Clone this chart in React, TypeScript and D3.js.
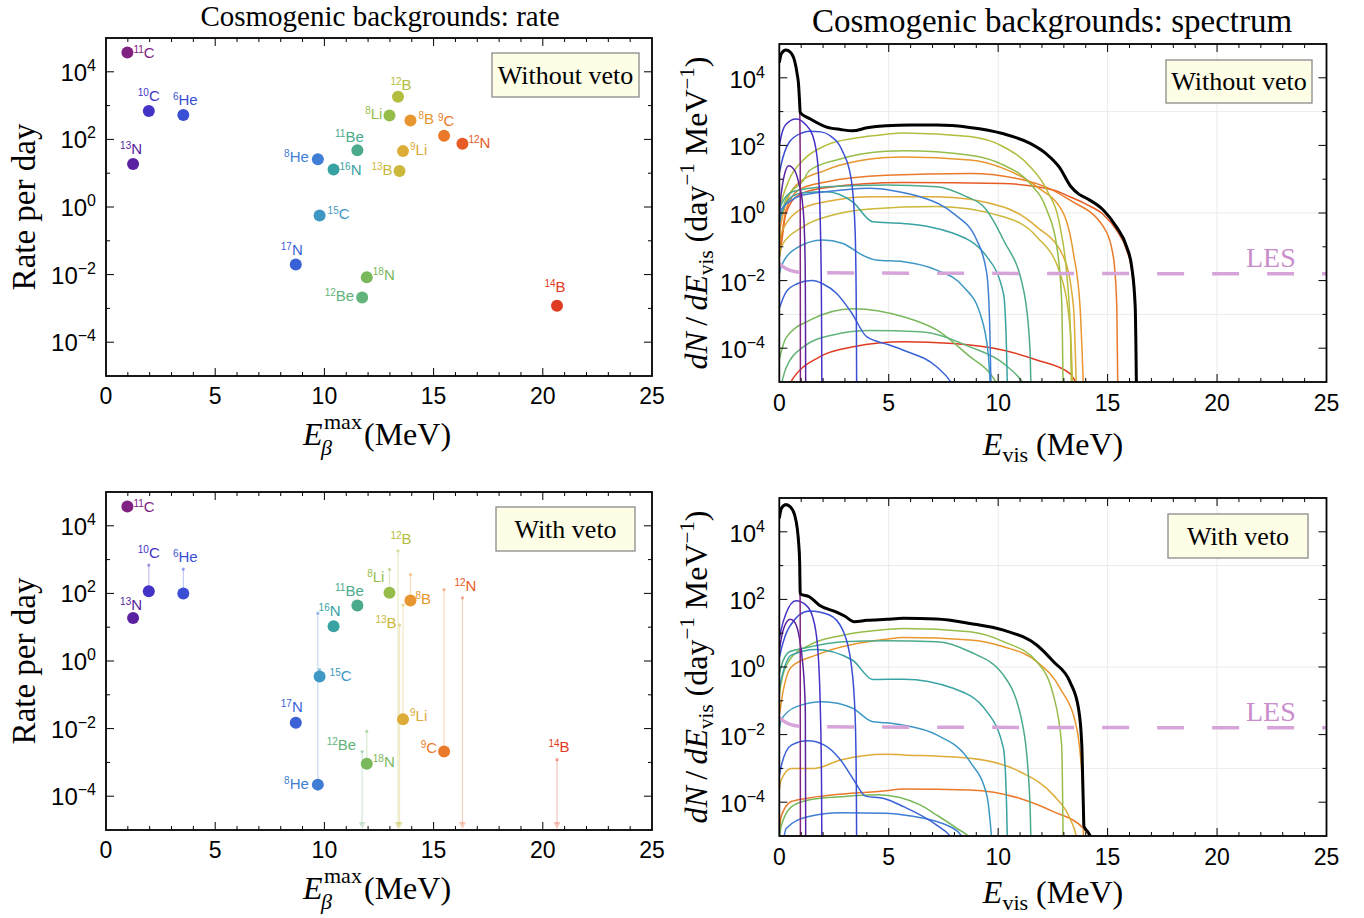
import React from "react";
import * as d3 from "d3";

// ---------------- DATA ----------------
const masses = [11, 13, 10, 6, 17, 8, 15, 16, 11, 12, 18, 8, 12, 13, 9, 8, 9, 12, 14];
const symbols = ["C", "N", "C", "He", "N", "He", "C", "N", "Be", "Be", "N", "Li", "B", "B", "Li", "B", "C", "N", "B"];
const eMax = [0.98, 1.24, 1.96, 3.54, 8.69, 9.7, 9.78, 10.42, 11.51, 11.73, 11.94, 12.98, 13.37, 13.44, 13.6, 13.94, 15.48, 16.32, 20.65];
const rateWithoutVeto = [3.7e4, 18.6, 690, 525, 0.02, 26, 0.56, 12.9, 48, 0.0021, 0.0083, 513, 1820, 11.7, 45, 363, 129, 74, 0.0012];
const rateWithVeto: (number | null)[] = [3.7e4, 18.6, 115, 100, 0.015, 2.2e-4, 0.35, 10.7, 44, null, 9.1e-4, 105, null, null, 0.019, 62, 0.0021, null, null];
const isotopeColors = [
  "#7f2282", "#5a22a0", "#4333c6", "#3a4fd4", "#3a62d6", "#3f7ed4", "#3f98c4", "#39a2a2", "#4caa8c", "#63b47a",
  "#7ab85c", "#96bd4a", "#b3bd3e", "#ccb83a", "#ddab37", "#e8962f", "#ea7a2a", "#e65b26", "#df3a22",
];
const xTickValues = [0, 5, 10, 15, 20, 25];
const yTickExponents = [-4, -2, 0, 2, 4];

// spectra: [E_vis (MeV), log10(dN/dE)]
const s11C: [number, number][] = [[0, 4.45], [0.1, 4.72], [0.3, 4.82], [0.5, 4.76], [0.7, 4.5], [0.82, 4.1], [0.88, 3.8], [0.93, 3.2], [0.955, 1.5], [0.965, -6]];
const s13N: [number, number][] = [[0.01, 0.1], [0.08, 0.53], [0.23, 1.12], [0.43, 1.4], [0.69, 1.27], [0.91, 0.83], [1.07, 0.23], [1.15, -0.6], [1.19, -2], [1.21, -6]];
const s10C: [number, number][] = [[0.01, 2.0], [0.08, 2.25], [0.3, 2.62], [0.76, 2.78], [1.2, 2.62], [1.52, 2.3], [1.75, 1.51], [1.88, -0.46], [1.93, -3], [1.95, -6]];
const s6He: [number, number][] = [[0.01, 1.2], [0.08, 1.42], [0.46, 2.1], [1.0, 2.36], [1.37, 2.42], [1.9, 2.4], [2.29, 2.3], [2.9, 1.81], [3.28, 1.02], [3.46, -0.45], [3.52, -3], [3.54, -6]];
const s17N: [number, number][] = [[0.01, -2.8], [0.3, -2.35], [0.79, -2.1], [1.48, -2.0], [2.0, -2.1], [2.62, -2.38], [3.3, -2.95], [3.99, -3.66], [5.0, -3.9], [5.67, -4.06], [7.19, -4.55], [7.88, -5.04], [8.3, -5.6]];
const s8He: [number, number][] = [[0.01, -0.3], [0.08, 0.09], [0.5, 0.35], [1.07, 0.53], [2.9, 0.68], [4.14, 0.73], [5.2, 0.66], [6.43, 0.48], [7.95, -0.01], [9.02, -0.8], [9.48, -1.79], [9.62, -3.5], [9.7, -6]];
const s15C: [number, number][] = [[0.01, -1.8], [0.08, -1.59], [0.76, -1.05], [1.98, -0.8], [2.9, -0.9], [3.81, -1.25], [4.42, -1.39], [5.67, -1.44], [7.19, -1.69], [8.41, -2.18], [9.17, -2.97], [9.55, -4.2], [9.7, -6]];
const s16N: [number, number][] = [[0.01, -0.3], [0.08, -0.07], [0.6, 0.5], [1.1, 0.6], [2.13, 0.63], [3.35, 0.33], [4.27, -0.26], [5.67, -0.31], [7.95, -0.6], [9.48, -1.29], [10.24, -2.38], [10.38, -4], [10.45, -6]];
const s11Be: [number, number][] = [[0.01, 0.0], [0.08, 0.23], [0.6, 0.63], [2.13, 0.78], [4.88, 0.83], [7.19, 0.78], [8.5, 0.5], [9.33, 0.19], [10.24, -0.8], [11.16, -2.28], [11.45, -4], [11.52, -6]];
const s12Be: [number, number][] = [[0.01, -5.3], [0.3, -4.6], [1.1, -3.96], [2.5, -3.6], [4.14, -3.48], [6.43, -3.51], [8.71, -3.96], [10.24, -4.45], [11.16, -5.04], [11.5, -5.4]];
const s18N: [number, number][] = [[0.01, -4.3], [0.3, -3.7], [1.4, -3.17], [3.38, -2.83], [5.67, -3.07], [7.19, -3.46], [8.71, -4.25], [9.63, -4.75], [9.93, -5.04], [10.2, -5.4]];
const s8Li: [number, number][] = [[0.01, -0.2], [0.3, 0.4], [1.1, 0.97], [1.37, 1.25], [2.62, 1.57], [4.88, 1.83], [5.67, 1.84], [8.71, 1.71], [10.24, 1.42], [11.46, 0.87], [12.22, 0.09], [12.68, -1.0], [12.9, -2.58], [12.98, -6]];
const s12B: [number, number][] = [[0.01, 0.1], [0.08, 0.3], [0.46, 1.0], [1.07, 1.55], [2.13, 2.0], [3.5, 2.22], [4.88, 2.33], [5.67, 2.37], [8.71, 2.26], [10.24, 1.96], [11.46, 1.37], [12.22, 0.68], [12.83, -0.41], [13.13, -1.79], [13.3, -3.5], [13.37, -6]];
const s13B: [number, number][] = [[0.01, -1.3], [0.08, -1.0], [1.1, -0.4], [2.5, -0.05], [4.14, 0.12], [7.19, 0.19], [10.24, -0.11], [11.76, -0.7], [12.83, -1.79], [13.3, -3.5], [13.44, -6]];
const s9Li: [number, number][] = [[0.01, -0.9], [0.08, -0.6], [1.1, 0.15], [2.5, 0.38], [4.14, 0.48], [7.19, 0.48], [10.24, 0.18], [11.76, -0.41], [12.98, -1.29], [13.44, -2.77], [13.6, -6]];
const s8B: [number, number][] = [[0.01, -0.6], [0.08, -0.3], [0.76, 0.82], [2.13, 1.27], [4.88, 1.64], [5.67, 1.66], [8.71, 1.57], [10.24, 1.32], [11.76, 0.78], [12.98, -0.01], [13.44, -1.2], [13.74, -2.77], [13.94, -6]];
const s9C: [number, number][] = [[0.01, -1.1], [0.08, -0.8], [0.31, 0.1], [0.92, 0.7], [2.13, 0.92], [4.88, 1.12], [8.71, 1.17], [11.76, 0.87], [13.28, 0.38], [14.81, -0.41], [15.26, -1.29], [15.42, -2.77], [15.48, -6]];
const s12N: [number, number][] = [[0.01, -1.3], [0.08, -1.0], [0.31, 0.0], [0.92, 0.55], [2.13, 0.75], [5.67, 0.9], [10.24, 0.87], [12.52, 0.68], [13.28, 0.48], [14.05, 0.25], [14.81, -0.05], [15.4, -0.5], [15.87, -1.1], [16.1, -1.7], [16.26, -2.9], [16.33, -6]];
const s14B: [number, number][] = [[0.3, -5.3], [0.49, -5.04], [1.86, -4.25], [3.38, -3.96], [5.67, -3.81], [7.95, -3.86], [10.24, -4.06], [11.76, -4.35], [13.28, -4.75], [13.59, -5.04], [14, -5.4]];
const totalWithoutVeto: [number, number][] = [[0, 4.45], [0.1, 4.72], [0.3, 4.82], [0.5, 4.76], [0.7, 4.5], [0.82, 4.1], [0.88, 3.8], [0.93, 3.25], [0.955, 2.97], [1.37, 2.8], [2.13, 2.55], [2.8, 2.47], [3.35, 2.43], [4.0, 2.52], [4.88, 2.58], [6.0, 2.6], [7.2, 2.6], [8.7, 2.53], [10.2, 2.35], [11.46, 2.06], [12.2, 1.75], [12.8, 1.35], [13.3, 0.8], [13.7, 0.55], [14.05, 0.43], [14.8, 0.09], [15.4, -0.41], [15.87, -1.0], [16.1, -1.59], [16.26, -2.77], [16.33, -6]];

const v13N: [number, number][] = [[0.01, 0.5], [0.08, 0.8], [0.23, 1.19], [0.5, 1.41], [0.69, 1.34], [0.91, 0.89], [1.07, 0.11], [1.15, -0.6], [1.19, -1.37], [1.21, -6]];
const v10C: [number, number][] = [[0.01, 0.85], [0.08, 1.09], [0.31, 1.59], [0.76, 1.96], [1.22, 1.83], [1.52, 1.49], [1.75, 0.6], [1.88, -1.37], [1.93, -3.5], [1.95, -6]];
const v6He: [number, number][] = [[0.01, 0.3], [0.08, 0.5], [0.46, 1.19], [1.37, 1.66], [2.29, 1.54], [2.9, 1.09], [3.28, 0.11], [3.46, -1.37], [3.52, -3.5], [3.54, -6]];
const v17N: [number, number][] = [[0.01, -3.2], [0.08, -2.95], [0.55, -2.31], [1.3, -2.18], [2.06, -2.31], [2.8, -2.75], [3.41, -3.35], [3.94, -3.82], [4.78, -3.89], [5.67, -4.13], [7.19, -4.68], [7.88, -5.07], [8.2, -5.5]];
const v8He: [number, number][] = [[0.2, -5.1], [0.31, -4.78], [1.3, -4.43], [2.8, -4.31], [4.88, -4.33], [5.67, -4.38], [7.95, -4.77], [8.41, -5.07], [8.7, -5.4]];
const v15C: [number, number][] = [[0.01, -1.8], [0.08, -1.57], [0.76, -1.18], [1.98, -1.03], [3.35, -1.22], [4.27, -1.62], [4.88, -1.65], [5.67, -1.72], [7.19, -2.01], [8.71, -2.8], [9.48, -3.79], [9.7, -5.07], [9.8, -6]];
const v16N: [number, number][] = [[0.01, -0.6], [0.08, -0.39], [0.55, 0.35], [1.68, 0.52], [3.35, 0.2], [4.27, -0.37], [5.67, -0.36], [7.95, -0.63], [9.48, -1.32], [10.24, -2.41], [10.38, -4], [10.45, -6]];
const v11Be: [number, number][] = [[0.01, -0.2], [0.08, 0.0], [0.46, 0.45], [1.07, 0.55], [2.9, 0.75], [4.88, 0.78], [7.19, 0.75], [8.71, 0.45], [10.24, -0.24], [11.15, -1.82], [11.45, -4], [11.52, -6]];
const v18N: [number, number][] = [[0.01, -5.0], [0.08, -4.73], [0.55, -4.14], [1.3, -3.94], [2.8, -3.84], [4.5, -3.78], [6.43, -4.08], [7.19, -4.38], [8.1, -4.77], [8.71, -5.07], [9.0, -5.4]];
const v8Li: [number, number][] = [[0.01, -0.8], [0.08, -0.49], [0.46, 0.2], [1.37, 0.65], [2.9, 0.94], [4.88, 1.11], [5.67, 1.14], [8.71, 1.04], [10.24, 0.75], [11.76, 0.16], [12.52, -0.83], [12.9, -2.31], [12.98, -6]];
const v9Li: [number, number][] = [[0.01, -3.6], [0.08, -3.35], [0.55, -3.0], [1.6, -3.0], [2.8, -2.75], [4.88, -2.58], [5.67, -2.6], [8.71, -2.7], [11.0, -3.1], [12.52, -3.79], [13.28, -4.48], [13.59, -5.07], [13.7, -5.5]];
const v8B: [number, number][] = [[0.01, -1.4], [0.08, -1.08], [0.55, 0.0], [1.68, 0.35], [4.88, 0.82], [5.67, 0.87], [8.71, 0.8], [10.24, 0.6], [11.76, 0.16], [12.83, -0.63], [13.59, -1.82], [13.85, -3.5], [13.92, -6]];
const v9C: [number, number][] = [[0.01, -4.8], [0.08, -4.43], [0.55, -3.98], [1.3, -3.88], [4.88, -3.66], [5.67, -3.61], [8.71, -3.64], [11.0, -3.89], [12.52, -4.28], [13.89, -4.77], [14.27, -5.07], [14.6, -5.4]];
const totalWithVeto: [number, number][] = [[0, 4.4], [0.1, 4.7], [0.3, 4.8], [0.5, 4.74], [0.7, 4.5], [0.82, 4.1], [0.88, 3.7], [0.93, 3.1], [0.955, 2.2], [0.97, 2.16], [1.37, 2.08], [1.83, 1.83], [2.59, 1.63], [3.0, 1.5], [3.42, 1.34], [4.0, 1.38], [4.88, 1.41], [5.67, 1.44], [7.19, 1.42], [8.71, 1.29], [10.24, 1.09], [11.76, 0.65], [12.52, 0.16], [13.28, -0.44], [13.67, -1.23], [13.82, -2.31], [13.88, -3.8], [13.92, -4.72], [14.1, -4.88], [14.27, -5.07], [14.5, -5.3]];

const spectraWithoutVeto: ([number, number][] | null)[] = [s11C, s13N, s10C, s6He, s17N, s8He, s15C, s16N, s11Be, s12Be, s18N, s8Li, s12B, s13B, s9Li, s8B, s9C, s12N, s14B];
const spectraWithVeto: ([number, number][] | null)[] = [s11C, v13N, v10C, v6He, v17N, v8He, v15C, v16N, v11Be, null, v18N, v8Li, null, null, v9Li, v8B, v9C, null, null];
const lesCurve: [number, number][] = [[0, -1.5], [0.2, -1.6], [0.5, -1.7], [0.9, -1.75], [2, -1.77], [25, -1.8]];

// label placements (layout)
type Anchor = "start" | "middle" | "end";
const labelsNoVeto: [number, number, Anchor][] = [
  [6, 5, "start"], [-2, -10, "middle"], [0, -10, "middle"], [2, -10, "middle"], [-4, -9, "middle"], [-9, 3, "end"],
  [8, 3, "start"], [6, 6, "start"], [-8, -8, "middle"], [-8, 3, "end"], [6, 3, "start"], [-7, 4, "end"],
  [3, -7, "middle"], [-7, 4, "end"], [7, 4, "start"], [8, 4, "start"], [2, -10, "middle"], [6, 4, "start"], [-2, -14, "middle"],
];
const labelsVeto: ["dot" | "orig", number, number, Anchor][] = [
  ["dot", 6, 5, "start"], ["dot", -2, -8, "middle"], ["orig", 0, -7, "middle"], ["orig", 2, -7, "middle"], ["dot", -4, -11, "middle"],
  ["dot", -9, 4, "end"], ["dot", 10, 5, "start"], ["dot", -4, -10, "middle"], ["dot", -8, -9, "middle"], ["orig", -6, -2, "end"],
  ["dot", 6, 3, "start"], ["dot", -5, -11, "end"], ["orig", 3, -7, "middle"], ["orig", -3, 3, "end"], ["dot", 7, 2, "start"],
  ["dot", 5, 4, "start"], ["dot", -7, 1, "end"], ["orig", 3, -7, "middle"], ["orig", 2, -8, "middle"],
];

// ---------------- STYLE ----------------
const SANS = "'Liberation Sans', Arial, Helvetica, sans-serif";
const SERIF = "'Liberation Serif', 'Times New Roman', serif";
const OFF = 454;

function sup(e: number) {
  return e < 0 ? "\u2212" + Math.abs(e) : String(e);
}

function Ticks({ xs, ys, x0, x1, y0, y1 }: any) {
  const els: any[] = [];
  for (let i = 1; i < 25; i++) {
    const x = xs(i);
    const len = i % 5 === 0 ? 8 : 4;
    els.push(<line key={"xb" + i} x1={x} x2={x} y1={y1} y2={y1 - len} stroke="#000" strokeWidth={1} />);
    els.push(<line key={"xt" + i} x1={x} x2={x} y1={y0} y2={y0 + len} stroke="#000" strokeWidth={1} />);
  }
  for (let e = -4; e <= 4; e++) {
    const y = ys(Math.pow(10, e));
    const len = e % 2 === 0 ? 8 : 4;
    els.push(<line key={"yl" + e} x1={x0} x2={x0 + len} y1={y} y2={y} stroke="#000" strokeWidth={1} />);
    els.push(<line key={"yr" + e} x1={x1} x2={x1 - len} y1={y} y2={y} stroke="#000" strokeWidth={1} />);
  }
  return <g>{els}</g>;
}

function IsoLabel({ x, y, anchor, i }: any) {
  return (
    <text x={x} y={y} textAnchor={anchor} fill={isotopeColors[i]} fontFamily={SANS} fontSize={15}>
      <tspan fontSize={10} dy={-5}>{masses[i]}</tspan>
      <tspan dy={5}>{symbols[i]}</tspan>
    </text>
  );
}

function Legend({ x, y, w, h, text, size }: any) {
  return (
    <g>
      <rect x={x} y={y} width={w} height={h} fill="#fefee6" stroke="#8a8a8a" strokeWidth={1.3} />
      <text x={x + w / 2} y={y + h / 2 + size * 0.33} textAnchor="middle" fontFamily={SERIF} fontSize={size} fill="#000">{text}</text>
    </g>
  );
}

function RatePanel({ isTop }: { isTop: boolean }) {
  const off = isTop ? 0 : OFF;
  const x0 = 106, x1 = 652, y0 = 38 + off, y1 = 376 + off;
  const xs = d3.scaleLinear().domain([0, 25]).range([x0, x1]);
  const ys = d3.scaleLog().domain([1e-5, 1e5]).range([y1, y0]);
  const rates = isTop ? rateWithoutVeto : rateWithVeto;

  return (
    <g>
      {!isTop && eMax.map((e, i) => {
        const xo = xs(e);
        const yo = ys(rateWithoutVeto[i]);
        const rv = rateWithVeto[i];
        const c = isotopeColors[i];
        if (rv === null) {
          return (
            <g key={"v" + i}>
              <line x1={xo} x2={xo} y1={yo} y2={y1 - 6} stroke={c} strokeOpacity={0.3} strokeWidth={1.2} />
              <path d={`M${xo - 3.5},${y1 - 8} L${xo + 3.5},${y1 - 8} L${xo},${y1 - 1} Z`} fill={c} fillOpacity={0.3} />
              <circle cx={xo} cy={yo} r={1.6} fill={c} fillOpacity={0.5} />
            </g>
          );
        }
        return (
          <g key={"v" + i}>
            <line x1={xo} x2={xo} y1={yo} y2={ys(rv)} stroke={c} strokeOpacity={0.3} strokeWidth={1.2} />
            <circle cx={xo} cy={yo} r={1.6} fill={c} fillOpacity={0.5} />
          </g>
        );
      })}
      {eMax.map((e, i) => {
        const r = rates[i];
        if (r === null) return null;
        return <circle key={"p" + i} cx={xs(e)} cy={ys(r)} r={6} fill={isotopeColors[i]} />;
      })}
      {eMax.map((e, i) => {
        if (isTop) {
          const [dx, dy, a] = labelsNoVeto[i];
          return <IsoLabel key={"l" + i} i={i} x={xs(e) + dx} y={ys(rateWithoutVeto[i]) + dy} anchor={a} />;
        }
        const [ref, dx, dy, a] = labelsVeto[i];
        const rv = rateWithVeto[i];
        const base = ref === "orig" || rv === null ? rateWithoutVeto[i] : rv;
        return <IsoLabel key={"l" + i} i={i} x={xs(e) + dx} y={ys(base) + dy} anchor={a} />;
      })}
      <rect x={x0} y={y0} width={x1 - x0} height={y1 - y0} fill="none" stroke="#000" strokeWidth={1.8} />
      <Ticks xs={xs} ys={ys} x0={x0} x1={x1} y0={y0} y1={y1} />
      {xTickValues.map((t) => (
        <text key={"xt" + t} x={xs(t)} y={y1 + 28} textAnchor="middle" fontFamily={SANS} fontSize={23}>{t}</text>
      ))}
      {yTickExponents.map((e) => (
        <text key={"yt" + e} x={96} y={ys(Math.pow(10, e)) + 9} textAnchor="end" fontFamily={SANS} fontSize={24}>
          10<tspan fontSize={16} dy={-10}>{sup(e)}</tspan>
        </text>
      ))}
      <text transform={`translate(35,${207 + off}) rotate(-90)`} textAnchor="middle" fontFamily={SERIF} fontSize={33}>Rate per day</text>
      <text x={303} y={445 + off} fontFamily={SERIF} fontSize={32} fontStyle="italic">E</text>
      <text x={324} y={429 + off} fontFamily={SERIF} fontSize={22}>max</text>
      <text x={321} y={455 + off} fontFamily={SERIF} fontSize={22} fontStyle="italic">β</text>
      <text x={364} y={445 + off} fontFamily={SERIF} fontSize={32}>(MeV)</text>
      {isTop ? (
        <Legend x={492} y={53} w={147} h={44} text="Without veto" size={26} />
      ) : (
        <Legend x={496} y={507} w={139} h={44} text="With veto" size={26} />
      )}
    </g>
  );
}

function SpectrumPanel({ isTop }: { isTop: boolean }) {
  const off = isTop ? 0 : OFF;
  const x0 = 779.3, x1 = 1326.5, y0 = 44 + off, y1 = 382 + off;
  const xs = d3.scaleLinear().domain([0, 25]).range([x0, x1]);
  const ys = d3.scaleLog().domain([1e-5, 1e5]).range([y1, y0]);
  const line = d3
    .line<[number, number]>()
    .x((d) => xs(d[0]))
    .y((d) => ys(Math.pow(10, d[1])))
    .curve(d3.curveMonotoneX);
  const spectra = isTop ? spectraWithoutVeto : spectraWithVeto;
  const total = isTop ? totalWithoutVeto : totalWithVeto;
  const clipId = isTop ? "clipSpecTop" : "clipSpecBottom";
  const order = d3.range(spectra.length).reverse();
  const labelY = isTop ? 455 : 903;

  return (
    <g>
      <defs>
        <clipPath id={clipId}>
          <rect x={x0} y={y0} width={x1 - x0} height={y1 - y0} />
        </clipPath>
      </defs>
      {[5, 10, 15, 20].map((t) => (
        <line key={"gx" + t} x1={xs(t)} x2={xs(t)} y1={y0} y2={y1} stroke="#ebebeb" strokeWidth={1} />
      ))}
      {[1e3, 1, 1e-3].map((t) => (
        <line key={"gy" + t} x1={x0} x2={x1} y1={ys(t)} y2={ys(t)} stroke="#ebebeb" strokeWidth={1} />
      ))}
      <g clipPath={`url(#${clipId})`}>
        {order.map((i) => {
          const d = spectra[i];
          if (!d) return null;
          return <path key={"s" + i} d={line(d) || ""} fill="none" stroke={isotopeColors[i]} strokeWidth={1.5} />;
        })}
        <path d={line(lesCurve) || ""} fill="none" stroke="#d6a4d9" strokeWidth={3.5} strokeDasharray="27 28" strokeDashoffset={5} />
        <path d={line(total) || ""} fill="none" stroke="#000" strokeWidth={3} strokeLinejoin="round" />
      </g>
      <rect x={x0} y={y0} width={x1 - x0} height={y1 - y0} fill="none" stroke="#000" strokeWidth={1.8} />
      <Ticks xs={xs} ys={ys} x0={x0} x1={x1} y0={y0} y1={y1} />
      {xTickValues.map((t) => (
        <text key={"xt" + t} x={xs(t)} y={y1 + 29} textAnchor="middle" fontFamily={SANS} fontSize={23}>{t}</text>
      ))}
      {yTickExponents.map((e) => (
        <text key={"yt" + e} x={765} y={ys(Math.pow(10, e)) + 10} textAnchor="end" fontFamily={SANS} fontSize={24}>
          10<tspan fontSize={16} dy={-10}>{sup(e)}</tspan>
        </text>
      ))}
      <text x={1246} y={267 + off} fontFamily={SERIF} fontSize={28} fill="#c98dcc">LES</text>
      <text transform={`translate(707,${213 + off}) rotate(-90)`} textAnchor="middle" fontFamily={SERIF} fontSize={32}>
        <tspan fontStyle="italic">dN</tspan>
        <tspan>{"\u2009/\u2009"}</tspan>
        <tspan fontStyle="italic">dE</tspan>
        <tspan fontSize={21} dy={6}>vis</tspan>
        <tspan dy={-6}>{" (day"}</tspan>
        <tspan fontSize={21} dy={-13}>{"\u22121"}</tspan>
        <tspan dy={13}>{" MeV"}</tspan>
        <tspan fontSize={21} dy={-13}>{"\u22121"}</tspan>
        <tspan dy={13}>)</tspan>
      </text>
      <text x={1053} y={labelY} textAnchor="middle" fontFamily={SERIF} fontSize={32}>
        <tspan fontStyle="italic">E</tspan>
        <tspan fontSize={22} dy={7}>vis</tspan>
        <tspan dy={-7}>{" (MeV)"}</tspan>
      </text>
      {isTop ? (
        <Legend x={1166} y={60} w={146} h={43} text="Without veto" size={26} />
      ) : (
        <Legend x={1168} y={514} w={140} h={44} text="With veto" size={26} />
      )}
    </g>
  );
}

export default function App() {
  return (
    <svg width={1364} height={918} style={{ position: "absolute", left: 0, top: 0, display: "block" }}>
      <rect x={0} y={0} width={1364} height={918} fill="#fff" />
      <text x={380} y={26} textAnchor="middle" fontFamily={SERIF} fontSize={29}>Cosmogenic backgrounds: rate</text>
      <text x={1052} y={32} textAnchor="middle" fontFamily={SERIF} fontSize={33}>Cosmogenic backgrounds: spectrum</text>
      <RatePanel isTop={true} />
      <RatePanel isTop={false} />
      <SpectrumPanel isTop={true} />
      <SpectrumPanel isTop={false} />
    </svg>
  );
}
